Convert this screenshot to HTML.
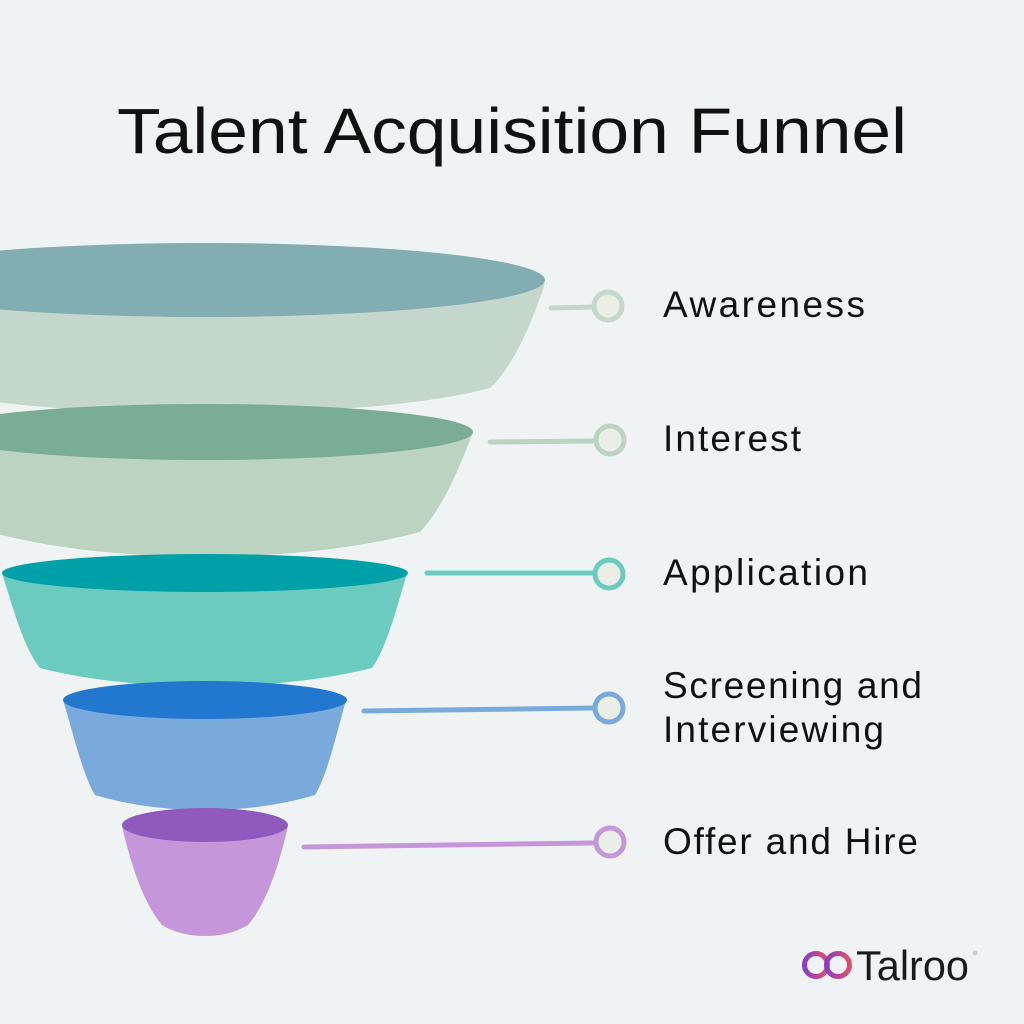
<!DOCTYPE html>
<html><head><style>
body{margin:0;background:#f0f3f4;}
svg{display:block}
text{font-family:"Liberation Sans",sans-serif;fill:#111}
</style></head><body>
<svg width="1024" height="1024" viewBox="0 0 1024 1024">
<rect width="1024" height="1024" fill="#f0f3f4"/>
<text x="117" y="153" font-size="64" textLength="790" lengthAdjust="spacingAndGlyphs">Talent Acquisition Funnel</text>

<!-- layer 1 -->
<path d="M545,283 C530,330 510,370 490,388 Q400,412 205,413 Q10,412 -80,388 L-135,283 Z" fill="#c5d7cb"/>
<ellipse cx="205" cy="280" rx="340" ry="37" fill="#82aeb1"/>
<!-- layer 2 -->
<path d="M473,432 C455,480 440,510 420,532 Q330,556 205,557 Q80,556 -10,532 L-63,432 Z" fill="#bbd3c0"/>
<ellipse cx="205" cy="432" rx="268" ry="28" fill="#7bac96"/>
<!-- layer 3 -->
<path d="M407,573 C395,615 385,650 372,668 Q300,686 205,686 Q110,686 40,668 C25,650 15,615 2,573 Z" fill="#6ccbbf"/>
<ellipse cx="205" cy="573" rx="203" ry="19" fill="#00a0a8"/>
<!-- layer 4 -->
<path d="M346,700 C335,740 327,775 315,795 Q265,810 205,810 Q145,810 95,795 C83,775 75,740 63,700 Z" fill="#79aadb"/>
<ellipse cx="205" cy="700" rx="142" ry="19" fill="#2277cf"/>
<!-- layer 5 -->
<path d="M288,826 C278,870 265,905 248,925 Q230,936 205,936 Q180,936 162,925 C145,905 132,870 122,826 Z" fill="#c596da"/>
<ellipse cx="205" cy="825" rx="83" ry="17" fill="#9059bd"/>

<!-- connectors -->
<g stroke-width="5" stroke-linecap="round" fill="none">
<path d="M551,308 L592,307" stroke="#c5d7cb"/>
<circle cx="608" cy="306" r="14" stroke="#c5d7cb" fill="#ebede7"/>
<path d="M490,442 L592,441" stroke="#bbd3c0"/>
<circle cx="610" cy="440" r="14" stroke="#bbd3c0" fill="#ebede7"/>
<path d="M427,573 L592,573" stroke="#6ccbbf"/>
<circle cx="609" cy="574" r="14" stroke="#6ccbbf" fill="#ebede7"/>
<path d="M364,711 L592,708" stroke="#79aadb"/>
<circle cx="609" cy="708" r="14" stroke="#79aadb" fill="#ebede7"/>
<path d="M304,847 L592,843" stroke="#c596da"/>
<circle cx="610" cy="842" r="14" stroke="#c596da" fill="#ebede7"/>
</g>

<g font-size="37" lengthAdjust="spacingAndGlyphs">
<text x="663" y="317" textLength="202">Awareness</text>
<text x="663" y="451" textLength="138">Interest</text>
<text x="663" y="585" textLength="205">Application</text>
<text x="663" y="698" textLength="259">Screening and</text>
<text x="663" y="742" textLength="221">Interviewing</text>
<text x="663" y="854" textLength="255">Offer and Hire</text>
</g>

<!-- logo -->
<defs><linearGradient id="lg" x1="0" x2="1"><stop offset="0" stop-color="#8a3cc8"/><stop offset="1" stop-color="#e0506a"/></linearGradient></defs>
<g fill="none" stroke="url(#lg)" stroke-width="5">
<circle cx="816" cy="965" r="11.5"/>
<circle cx="838" cy="965" r="11.5"/>
</g>
<text x="856" y="980" font-size="42" textLength="113" lengthAdjust="spacingAndGlyphs" style="fill:#1a1a1a">Talroo</text>
<circle cx="975" cy="953" r="2.5" fill="#ccc"/>
</svg>
</body></html>
